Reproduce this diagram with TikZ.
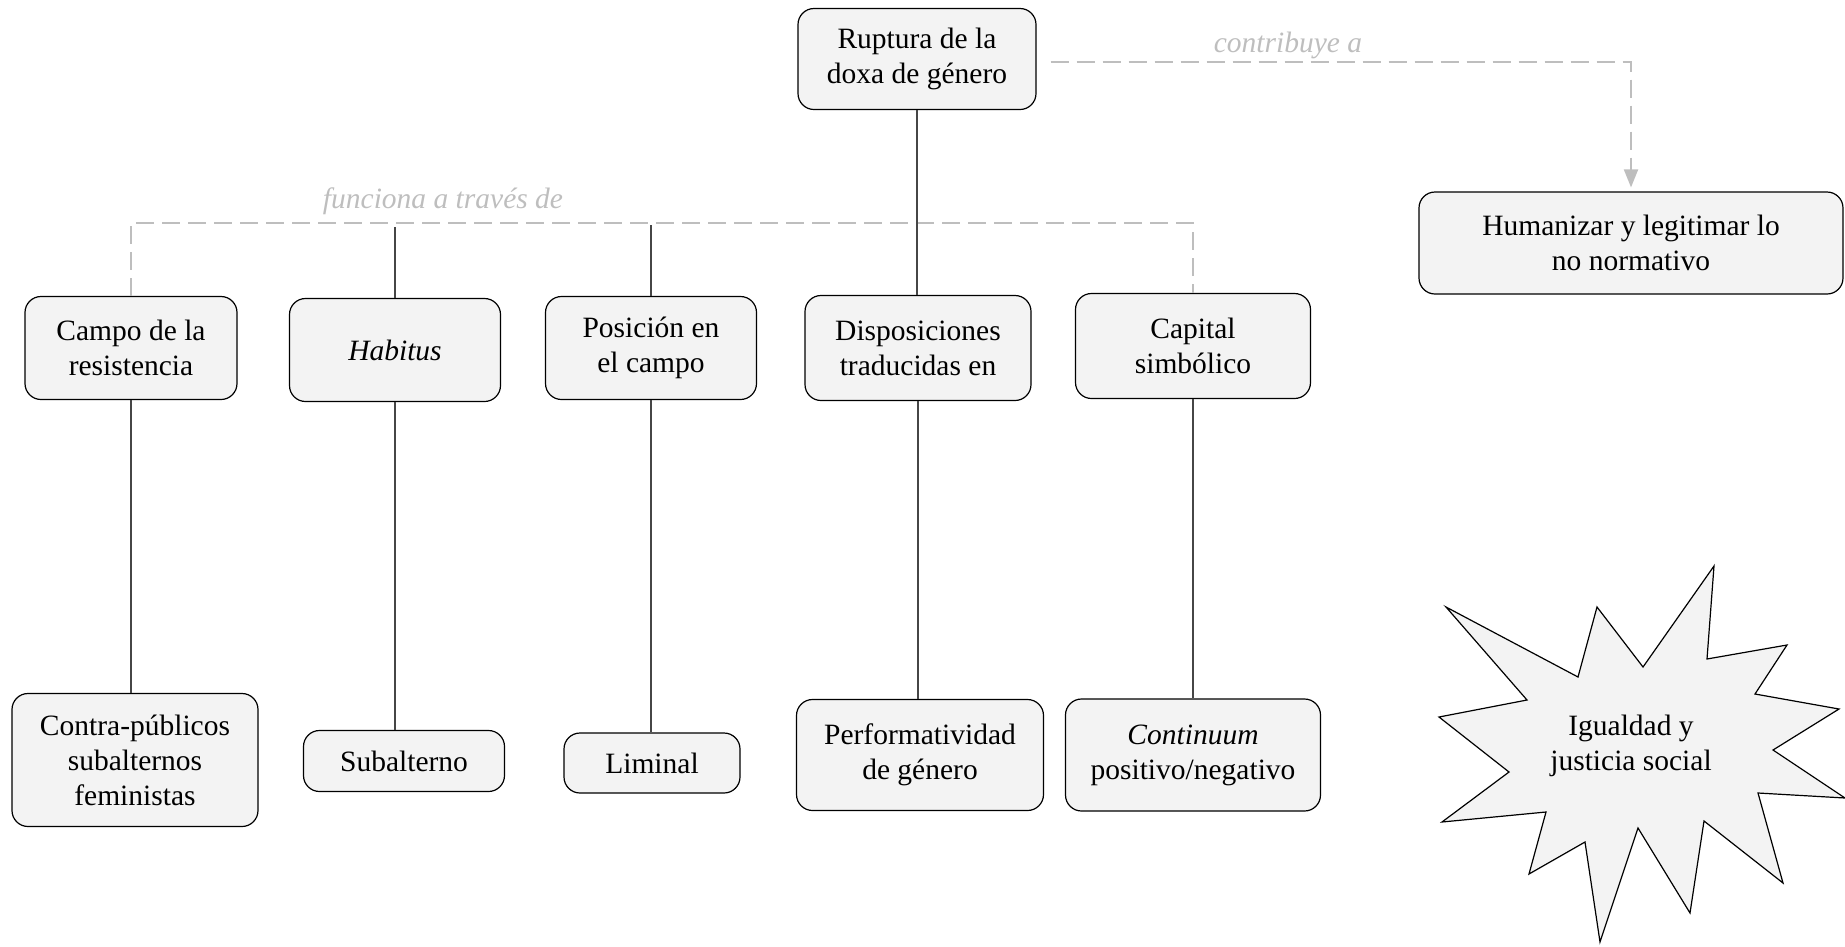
\documentclass[tikz,border=0pt]{standalone}
\usepackage{fontspec}
\setmainfont{Liberation Serif}
\usetikzlibrary{arrows.meta}
\definecolor{boxfill}{RGB}{243,243,243}
\definecolor{linkgray}{RGB}{190,190,190}
\definecolor{stemgray}{RGB}{70,70,70}
\begin{document}
\begin{tikzpicture}[x=1pt,y=-1pt,
  box/.style={draw=black, line width=1.2pt, fill=boxfill, rounded corners=16pt,
    align=center, inner sep=0pt, font=\fontsize{29.5}{35}\selectfont},
  stem/.style={draw=stemgray, line width=1.2pt},
  link/.style={draw=linkgray, line width=2pt, dash pattern=on 18pt off 8pt},
  linklabel/.style={text=linkgray, font=\fontsize{29.5}{35}\selectfont\itshape}]
\path[use as bounding box] (0,0) rectangle (1845,946);

% top node and the result it contributes to
\node[box, minimum width=238, minimum height=101] (rup) at (917,59) {Ruptura de la\\doxa de género};
\node[box, minimum width=424, minimum height=102] (hum) at (1631,243) {Humanizar y legitimar lo\\no normativo};

% first row
\node[box, minimum width=212, minimum height=103] (campo) at (131,348) {Campo de la\\resistencia};
\node[box, minimum width=211, minimum height=103] (hab) at (395,350) {\itshape Habitus};
\node[box, minimum width=211, minimum height=103] (pos) at (651,348) {Posición en\\el campo};
\node[box, minimum width=226, minimum height=105] (disp) at (918,348) {Disposiciones\\traducidas en};
\node[box, minimum width=235, minimum height=105] (cap) at (1193,346) {Capital\\simbólico};

% second row
\node[box, minimum width=246, minimum height=133] (contra) at (135,760) {Contra-públicos\\subalternos\\feministas};
\node[box, minimum width=201, minimum height=61] (sub) at (404,761) {Subalterno};
\node[box, minimum width=176, minimum height=60] (lim) at (652,763) {Liminal};
\node[box, minimum width=247, minimum height=111] (perf) at (920,755) {Performatividad\\de género};
\node[box, minimum width=255, minimum height=112] (cont) at (1193,755) {\textit{Continuum}\\positivo/negativo};

% dashed relations
\coordinate (fork) at (917,223);
\draw[link] (campo.north) |- (fork) -| (cap.north);
\node[linklabel] (funlab) at (443,201) {funciona a través de};
\draw[link, -{Triangle[length=18pt,width=14pt,fill=linkgray]}, shorten <=14pt, shorten >=4pt]
  (rup.east |- 0,62) -| (hum.north);
\node[linklabel] (conlab) at (1288,45) {contribuye a};

% solid stems
\coordinate (habtop) at (hab.north |- 0,227);
\coordinate (postop) at (pos.north |- 0,225);
\draw[stem] (rup.south) -- (rup.south |- disp.north);
\draw[stem] (habtop) -- (hab.north);
\draw[stem] (postop) -- (pos.north);
\draw[stem] (campo.south) -- (campo.south |- contra.north);
\draw[stem] (hab.south) -- (hab.south |- sub.north);
\draw[stem] (pos.south) -- (pos.south |- lim.north);
\draw[stem] (disp.south) -- (disp.south |- perf.north);
\draw[stem] (cap.south) -- (cap.south |- cont.north);

% burst shape with its caption
\draw[black, line width=1.2pt, fill=boxfill, line join=miter]
  (1446,607) -- (1578,677) -- (1597,607) -- (1643,667) -- (1714,566) -- (1707,659)
  -- (1787,645) -- (1755,694) -- (1839,709) -- (1773,750) -- (1845,798) -- (1758,793)
  -- (1783,883) -- (1704,821) -- (1690,913) -- (1638,828) -- (1600,942) -- (1585,842)
  -- (1529,874) -- (1546,812) -- (1442,822) -- (1509,772) -- (1439,717) -- (1527,700) -- cycle;
\node[align=center, font=\fontsize{29.5}{35}\selectfont] (goal) at (1631,746) {Igualdad y\\justicia social};
\end{tikzpicture}
\end{document}
